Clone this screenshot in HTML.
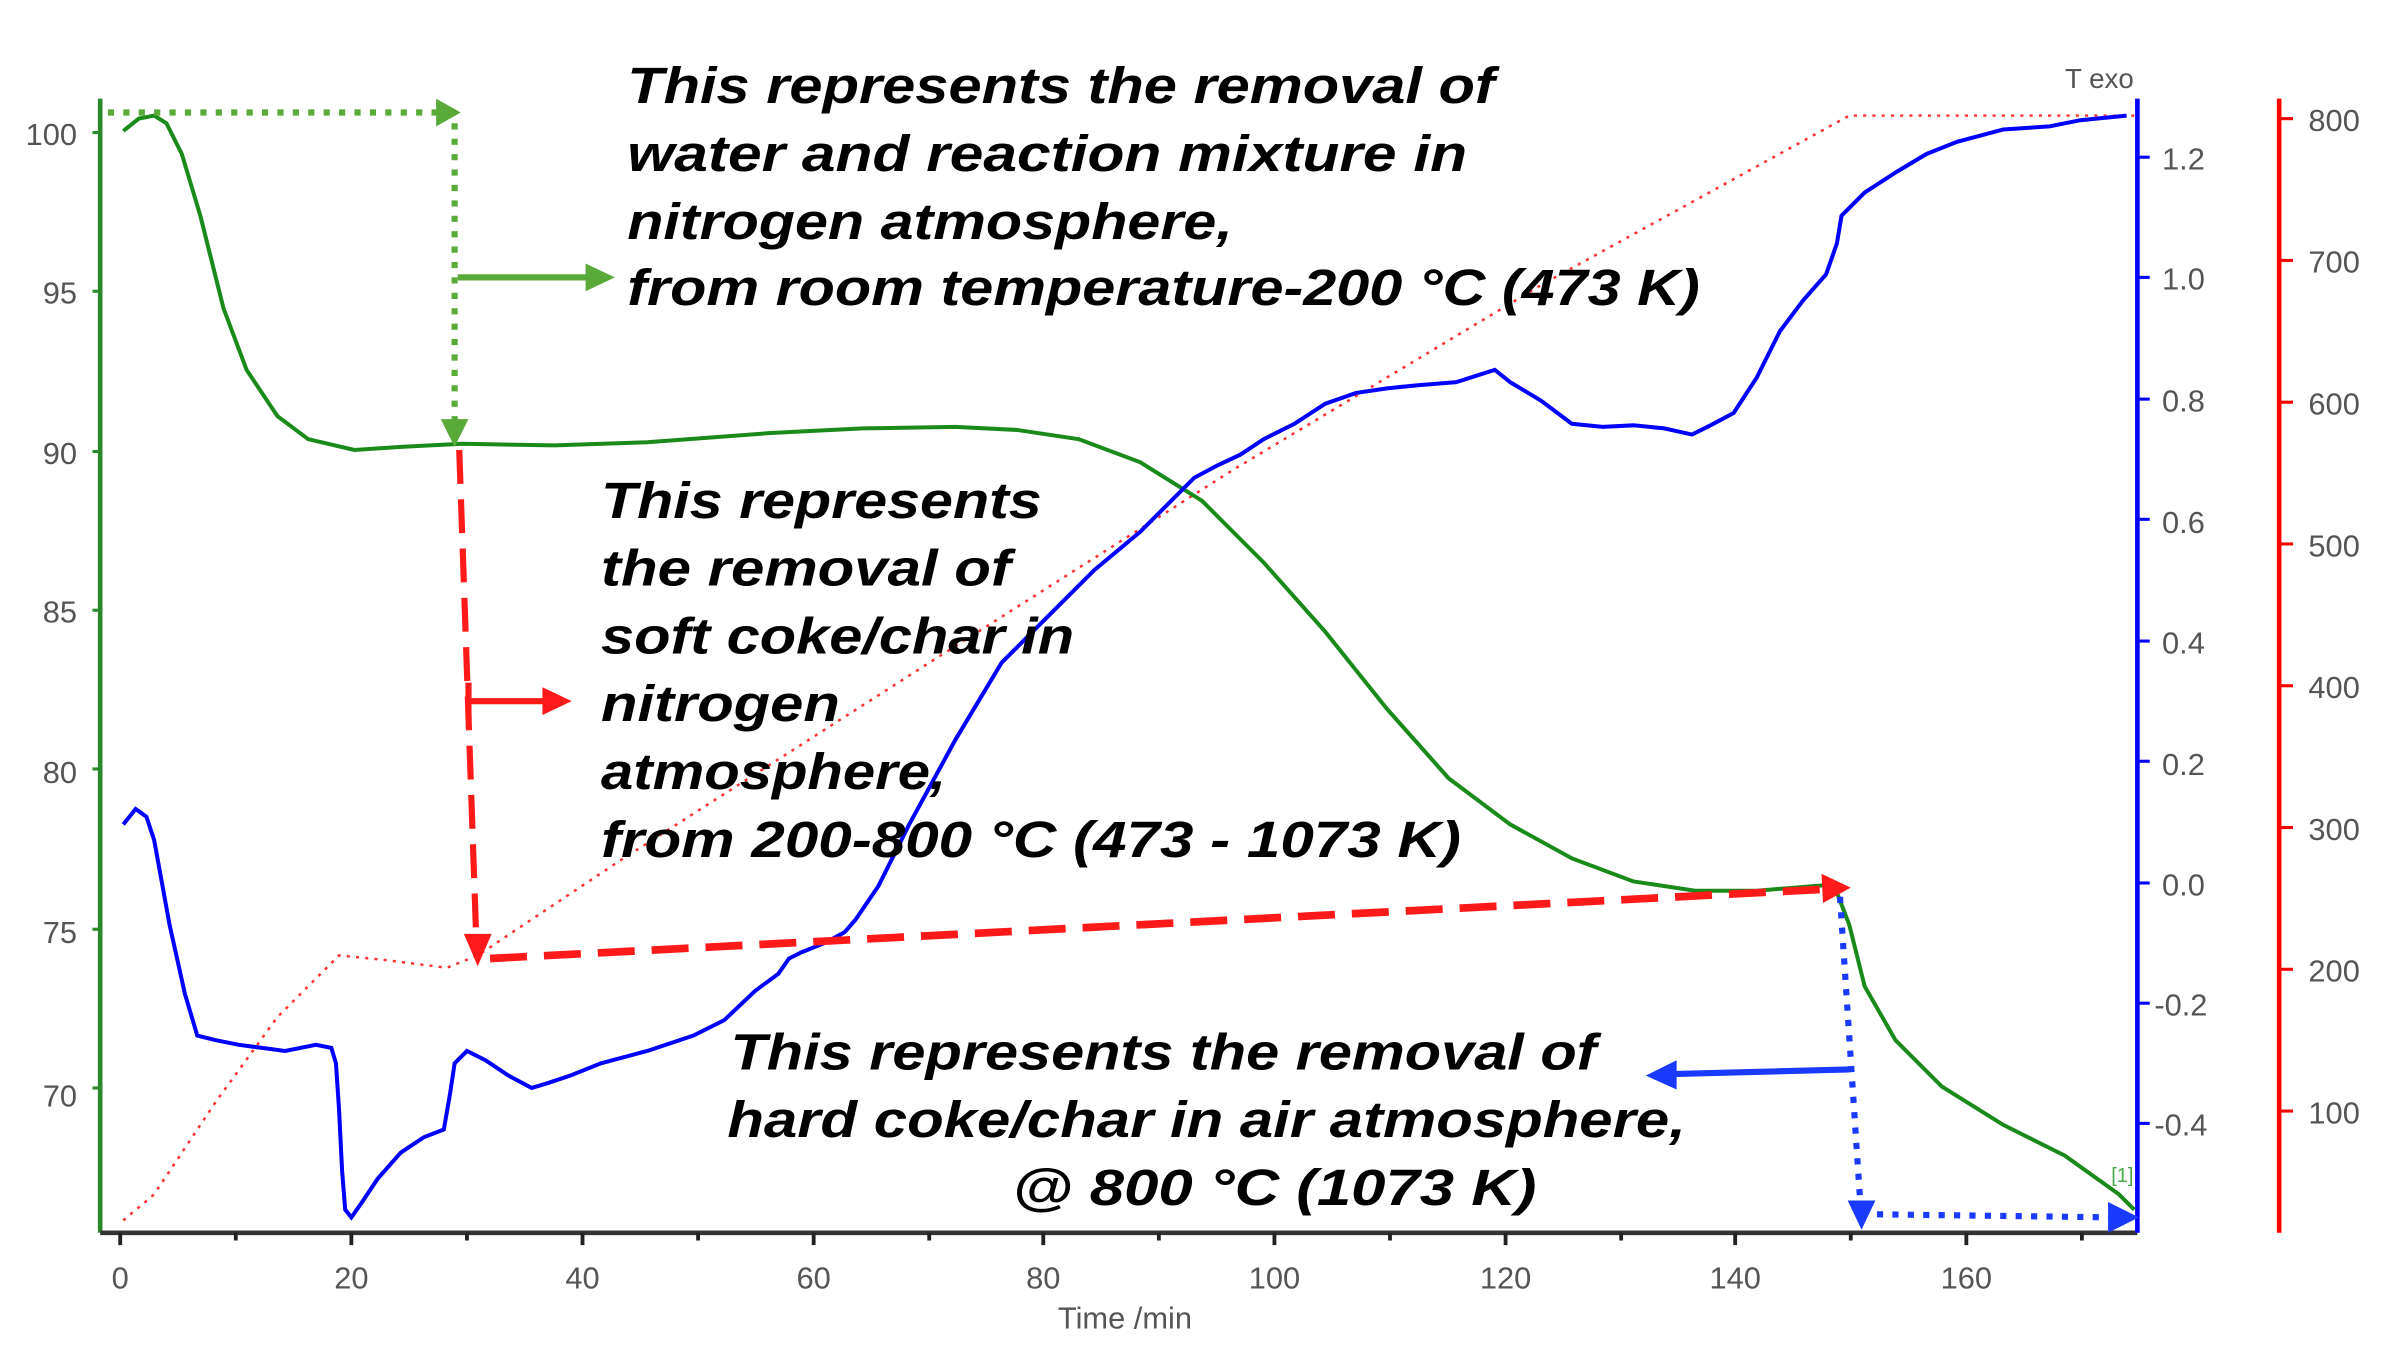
<!DOCTYPE html>
<html><head><meta charset="utf-8"><style>
html,body{margin:0;padding:0;background:#fff;}
svg{display:block;}
.t{font-family:"Liberation Sans",sans-serif;font-weight:bold;font-style:italic;font-size:33px;fill:#000;}
.k{font-family:"Liberation Sans",sans-serif;font-size:20px;fill:#555;}
</style></head><body>
<svg width="2404" height="1353" viewBox="0 0 1560 878" xmlns="http://www.w3.org/2000/svg">
<rect width="1560" height="878" fill="#fff"/>
<!-- axes -->
<line x1="65" y1="64" x2="65" y2="800" stroke="#2a8a2a" stroke-width="3"/>
<line x1="65" y1="800" x2="1387" y2="800" stroke="#333" stroke-width="3"/>
<line x1="1387" y1="64" x2="1387" y2="800" stroke="#0000ff" stroke-width="3"/>
<line x1="1479" y1="64" x2="1479" y2="800" stroke="#ff0000" stroke-width="3"/>
<g stroke="#2a8a2a" stroke-width="2">
<line x1="60" y1="86" x2="65" y2="86"/><line x1="60" y1="189" x2="65" y2="189"/><line x1="60" y1="293" x2="65" y2="293"/><line x1="60" y1="396" x2="65" y2="396"/><line x1="60" y1="499" x2="65" y2="499"/><line x1="60" y1="603" x2="65" y2="603"/><line x1="60" y1="706" x2="65" y2="706"/>
</g>
<g stroke="#0000ff" stroke-width="2">
<line x1="1387" y1="102" x2="1395" y2="102"/><line x1="1387" y1="180" x2="1395" y2="180"/><line x1="1387" y1="259" x2="1395" y2="259"/><line x1="1387" y1="337" x2="1395" y2="337"/><line x1="1387" y1="416" x2="1395" y2="416"/><line x1="1387" y1="494" x2="1395" y2="494"/><line x1="1387" y1="573" x2="1395" y2="573"/><line x1="1387" y1="651" x2="1395" y2="651"/><line x1="1387" y1="729" x2="1395" y2="729"/>
</g>
<g stroke="#ff0000" stroke-width="2">
<line x1="1479" y1="77" x2="1488" y2="77"/><line x1="1479" y1="169" x2="1488" y2="169"/><line x1="1479" y1="261" x2="1488" y2="261"/><line x1="1479" y1="353" x2="1488" y2="353"/><line x1="1479" y1="445" x2="1488" y2="445"/><line x1="1479" y1="537" x2="1488" y2="537"/><line x1="1479" y1="629" x2="1488" y2="629"/><line x1="1479" y1="721" x2="1488" y2="721"/>
</g>
<g stroke="#222" stroke-width="2.5">
<line x1="78" y1="800" x2="78" y2="808"/><line x1="228" y1="800" x2="228" y2="808"/><line x1="378" y1="800" x2="378" y2="808"/><line x1="528" y1="800" x2="528" y2="808"/><line x1="677" y1="800" x2="677" y2="808"/><line x1="827" y1="800" x2="827" y2="808"/><line x1="977" y1="800" x2="977" y2="808"/><line x1="1126" y1="800" x2="1126" y2="808"/><line x1="1276" y1="800" x2="1276" y2="808"/>
<line x1="153" y1="800" x2="153" y2="805"/><line x1="303" y1="800" x2="303" y2="805"/><line x1="453" y1="800" x2="453" y2="805"/><line x1="603" y1="800" x2="603" y2="805"/><line x1="752" y1="800" x2="752" y2="805"/><line x1="902" y1="800" x2="902" y2="805"/><line x1="1052" y1="800" x2="1052" y2="805"/><line x1="1201" y1="800" x2="1201" y2="805"/><line x1="1351" y1="800" x2="1351" y2="805"/>
</g>
<!-- tick labels -->
<g class="k" text-anchor="end">
<text x="50" y="94">100</text><text x="50" y="197">95</text><text x="50" y="301">90</text><text x="50" y="404">85</text><text x="50" y="508">80</text><text x="50" y="612">75</text><text x="50" y="718">70</text>
</g>
<g class="k">
<text x="1403" y="110">1.2</text><text x="1403" y="188">1.0</text><text x="1403" y="267">0.8</text><text x="1403" y="346">0.6</text><text x="1403" y="424">0.4</text><text x="1403" y="503">0.2</text><text x="1403" y="581">0.0</text><text x="1398" y="659">-0.2</text><text x="1398" y="737">-0.4</text>
<text x="1498" y="85">800</text><text x="1498" y="177">700</text><text x="1498" y="269">600</text><text x="1498" y="361">500</text><text x="1498" y="453">400</text><text x="1498" y="545">300</text><text x="1498" y="637">200</text><text x="1498" y="729">100</text>
<text x="1340" y="57" font-size="18">T exo</text>
</g>
<g class="k" text-anchor="middle">
<text x="78" y="836">0</text><text x="228" y="836">20</text><text x="378" y="836">40</text><text x="528" y="836">60</text><text x="677" y="836">80</text><text x="827" y="836">100</text><text x="977" y="836">120</text><text x="1126" y="836">140</text><text x="1276" y="836">160</text>
<text x="730" y="862">Time /min</text>
</g>
<!-- red temperature -->
<polyline fill="none" stroke="#ff3030" stroke-width="1.6" stroke-dasharray="2,4" points="80,792 100,775 140,715 180,660 220,620 250,623 290,628 310,620 400,560 600,432 800,305 1000,185 1200,75 1385,75"/>
<!-- green TG -->
<polyline fill="none" stroke="#1a8a1a" stroke-width="2.6" points="80,85 90,77 100,75 108,80 118,100 130,140 145,200 160,240 180,270 200,285 230,292 260,290 300,288 360,289 420,287 500,281 560,278 620,277 660,279 700,285 740,300 780,325 820,365 860,410 900,460 940,505 980,535 1020,557 1060,572 1100,578 1140,578 1190,574 1200,600 1210,640 1230,675 1260,705 1300,730 1340,750 1375,775 1385,785"/>
<!-- blue DTA -->
<polyline fill="none" stroke="#0000ff" stroke-width="2.6" points="80,535 88,525 95,530 100,545 110,600 120,645 128,672 140,675 155,678 170,680 185,682 205,678 215,680 218,690 220,720 222,760 224,785 228,790 235,780 245,765 260,748 275,738 288,733 292,710 295,690 303,682 315,688 330,698 345,706 355,703 370,698 390,690 420,682 450,672 470,662 490,643 505,632 512,622 520,618 535,612 548,605 555,597 570,575 590,535 620,480 650,430 680,400 710,370 740,345 760,325 775,310 790,302 805,295 820,285 840,275 860,262 880,255 900,252 920,250 945,248 970,240 980,248 1000,260 1020,275 1040,277 1060,276 1080,278 1098,282 1110,276 1125,268 1140,245 1155,215 1170,195 1185,178 1192,158 1195,140 1210,125 1230,112 1250,100 1270,92 1300,84 1330,82 1350,78 1380,75"/>
<!-- green annotations -->
<line x1="70" y1="73" x2="285" y2="73" stroke="#5aaa3a" stroke-width="4" stroke-dasharray="4,6"/>
<polygon points="283,64 299,73 283,82" fill="#5aaa3a"/>
<line x1="295" y1="80" x2="295" y2="275" stroke="#5aaa3a" stroke-width="4" stroke-dasharray="4,6"/>
<polygon points="286,272 304,272 295,290" fill="#5aaa3a"/>
<line x1="297" y1="180" x2="385" y2="180" stroke="#5aaa3a" stroke-width="4"/>
<polygon points="380,171 399,180 380,189" fill="#5aaa3a"/>
<!-- red annotations -->
<line x1="298" y1="292" x2="309" y2="608" stroke="#ff1a1a" stroke-width="4" stroke-dasharray="22,10"/>
<polygon points="301,606 319,606 310,627" fill="#ff1a1a"/>
<line x1="304" y1="443" x2="304" y2="467" stroke="#ff1a1a" stroke-width="4"/>
<line x1="304" y1="455" x2="355" y2="455" stroke="#ff1a1a" stroke-width="4"/>
<polygon points="352,446 371,455 352,464" fill="#ff1a1a"/>
<line x1="318" y1="622" x2="1185" y2="577" stroke="#ff1a1a" stroke-width="5" stroke-dasharray="24,11"/>
<polygon points="1182,567 1201,576 1183,586" fill="#ff1a1a"/>
<!-- blue annotations -->
<line x1="1200" y1="694" x2="1085" y2="697" stroke="#1a3aff" stroke-width="4"/>
<polygon points="1088,688 1068,698 1088,707" fill="#1a3aff"/>
<line x1="1194" y1="582" x2="1207" y2="778" stroke="#1a3aff" stroke-width="4" stroke-dasharray="4,6"/>
<polygon points="1199,779 1217,779 1208,798" fill="#1a3aff"/>
<line x1="1218" y1="788" x2="1372" y2="790" stroke="#1a3aff" stroke-width="4" stroke-dasharray="4,6"/>
<polygon points="1368,780 1388,790 1368,800" fill="#1a3aff"/>
<text x="1370" y="767" font-family="Liberation Sans,sans-serif" font-size="13" fill="#4aaa4a">[1]</text>
<!-- text blocks -->
<g class="t">
<text x="407" y="67" textLength="563" lengthAdjust="spacingAndGlyphs">This represents the removal of</text>
<text x="407" y="111" textLength="545" lengthAdjust="spacingAndGlyphs">water and reaction mixture in</text>
<text x="407" y="155" textLength="393" lengthAdjust="spacingAndGlyphs">nitrogen atmosphere,</text>
<text x="407" y="198" textLength="696" lengthAdjust="spacingAndGlyphs">from room temperature-200 °C (473 K)</text>
<text x="390" y="336" textLength="286" lengthAdjust="spacingAndGlyphs">This represents</text>
<text x="390" y="380" textLength="266" lengthAdjust="spacingAndGlyphs">the removal of</text>
<text x="390" y="424" textLength="307" lengthAdjust="spacingAndGlyphs">soft coke/char in</text>
<text x="390" y="468" textLength="155" lengthAdjust="spacingAndGlyphs">nitrogen</text>
<text x="390" y="512" textLength="224" lengthAdjust="spacingAndGlyphs">atmosphere,</text>
<text x="390" y="556" textLength="558" lengthAdjust="spacingAndGlyphs">from 200-800 °C (473 - 1073 K)</text>
<text x="474" y="694" textLength="562" lengthAdjust="spacingAndGlyphs">This represents the removal of</text>
<text x="472" y="738" textLength="622" lengthAdjust="spacingAndGlyphs">hard coke/char in air atmosphere,</text>
<text x="657" y="782" textLength="340" lengthAdjust="spacingAndGlyphs">@ 800 °C  (1073 K)</text>
</g>
</svg>
</body></html>
